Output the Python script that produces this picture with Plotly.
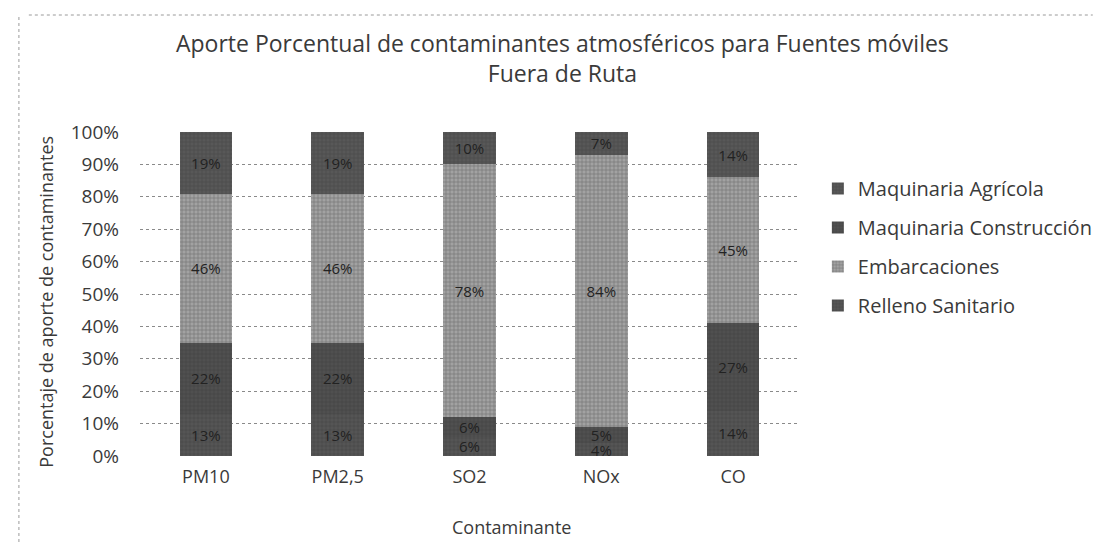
import plotly.graph_objects as go

categories = ["PM10", "PM2,5", "SO2", "NOx", "CO"]
relleno = [13, 13, 6, 4, 14]
construccion = [22, 22, 6, 5, 27]
embarcaciones = [46, 46, 78, 84, 45]
agricola = [19, 19, 10, 7, 14]

series = [
    ("Relleno Sanitario", relleno, "#555555", 4),
    ("Maquinaria Construcción", construccion, "#505050", 2),
    ("Embarcaciones", embarcaciones, "#a2a2a2", 3),
    ("Maquinaria Agrícola", agricola, "#585858", 1),
]

FONT = "Open Sans"
TXT = "#3a3a3a"

# plot area in pixels
L, R, T, B = 132, 796, 124, 448
W, H = R - L, B - T


def px(x):
    return (x - L) / W


def py(y):
    return (B - y) / H


fig = go.Figure()
for name, vals, color, rank in series:
    fig.add_trace(go.Bar(
        name=name, x=categories, y=vals,
        marker=dict(color=color, line=dict(width=0),
                    pattern=dict(shape="+", fgcolor="#333333", bgcolor=color, size=4, solidity=0.25)),
        text=[f"{v}%" for v in vals], textposition="inside",
        insidetextanchor="middle", textangle=0, constraintext="none",
        textfont=dict(family=FONT, size=15, color="#222"),
        legendrank=rank, legendgroup=name,
        hoverinfo="skip",
    ))

fig.update_layout(
    barmode="stack", bargap=0.60,
    width=1102, height=544,
    margin=dict(l=L, r=1102 - R, t=T, b=544 - B),
    paper_bgcolor="white", plot_bgcolor="white",
    font=dict(family=FONT, size=18, color=TXT),
    uniformtext=dict(minsize=14, mode="show"),
    showlegend=True,
    legend=dict(x=px(815), xanchor="left", y=py(161), yanchor="top",
                font=dict(family=FONT, size=20, color=TXT),
                tracegroupgap=10, itemwidth=30, bgcolor="rgba(0,0,0,0)"),
    xaxis=dict(showline=False, ticks="", tickfont=dict(size=18, color=TXT),
               ticklabelstandoff=8),
    yaxis=dict(range=[0, 100], dtick=10, ticksuffix="%", showgrid=True,
               gridcolor="#8a8a8a", griddash="dot", gridwidth=1,
               zeroline=False, showline=False, ticks="",
               tickfont=dict(size=19, color=TXT), ticklabelstandoff=20),
    annotations=[
        dict(text="Aporte Porcentual de contaminantes atmosféricos para Fuentes móviles<br>Fuera de Ruta",
             xref="paper", yref="paper", x=px(558), y=py(17),
             xanchor="center", yanchor="top", showarrow=False,
             font=dict(family=FONT, size=23, color=TXT), align="center"),
        dict(text="Porcentaje de aporte de contaminantes", xref="paper", yref="paper",
             x=px(37), y=py(294), xanchor="center", yanchor="middle", textangle=-90,
             showarrow=False, font=dict(family=FONT, size=18, color=TXT)),
        dict(text="Contaminante", xref="paper", yref="paper",
             x=px(506), y=py(519), xanchor="center", yanchor="middle",
             showarrow=False, font=dict(family=FONT, size=18, color=TXT)),
    ],
    shapes=[
        dict(type="line", xref="paper", yref="paper",
             x0=px(10), x1=px(10), y0=py(540), y1=py(6),
             line=dict(color="#9a9a9a", width=1, dash="dot")),
        dict(type="line", xref="paper", yref="paper",
             x0=px(20), x1=px(1092), y0=py(7), y1=py(7),
             line=dict(color="#9a9a9a", width=1, dash="dot")),
    ],
)

fig.write_html("out.html")
